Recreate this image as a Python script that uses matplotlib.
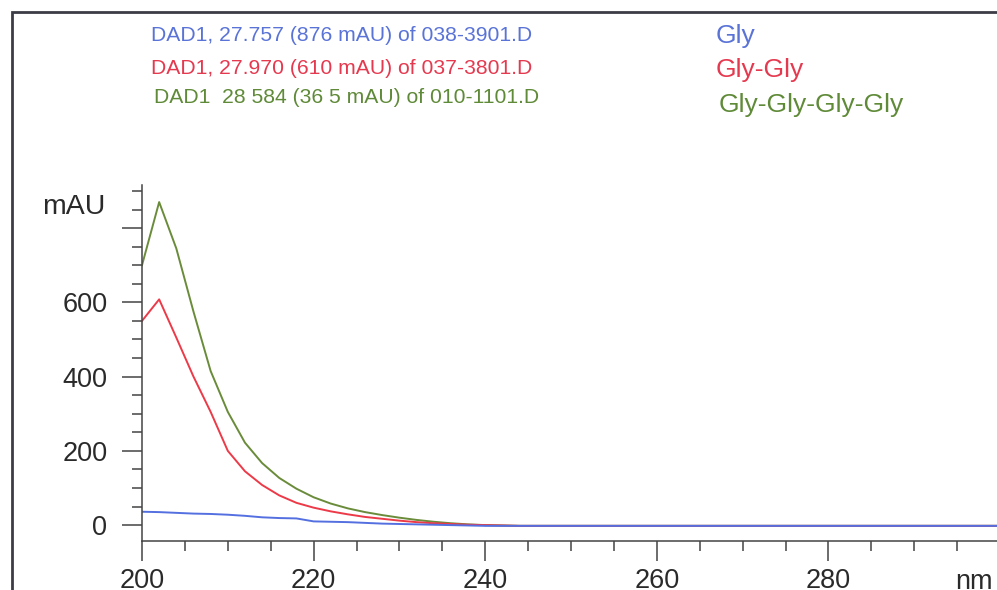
import matplotlib
matplotlib.use('Agg')
import matplotlib.pyplot as plt
from matplotlib.patches import Rectangle
from matplotlib.ticker import MultipleLocator, FixedFormatter, FixedLocator

plt.rcParams['font.family'] = ['Liberation Sans', 'DejaVu Sans']

# Wavelength grid in nm, absorbance in mAU for each peptide spectrum
wavelength = [200, 202, 204, 206, 208, 210, 212, 214, 216, 218,
              220, 222, 224, 226, 228, 230, 232, 234, 236, 238,
              240, 244, 250, 260, 270, 280, 290, 300, 310]
gly = [36, 35, 33, 31, 30, 28, 25, 21, 19, 18,
       10, 9, 8, 6, 4, 3, 2, 1, 0, -1,
       -2, -2, -2, -2, -2, -2, -2, -2, -2]
gly_gly = [550, 608, 505, 400, 305, 200, 145, 108, 80, 60,
           47, 37, 29, 22, 17, 12, 8, 5, 3, 1,
           0, -2, -2, -2, -2, -2, -2, -2, -2]
gly4 = [700, 870, 745, 575, 415, 305, 222, 167, 127, 98,
        75, 58, 45, 35, 27, 20, 14, 9, 5, 2,
        0, -2, -2, -2, -2, -2, -2, -2, -2]

y_ticks = [0, 200, 400, 600, 800]
y_labels = ['0', '200', '400', '600', '']
x_ticks = [200, 220, 240, 260, 280, 300]
x_labels = ['200', '220', '240', '260', '280', '']

headers = ['DAD1, 27.757 (876 mAU) of 038-3901.D',
           'DAD1, 27.970 (610 mAU) of 037-3801.D',
           'DAD1  28 584 (36 5 mAU) of 010-1101.D']
names = ['Gly', 'Gly-Gly', 'Gly-Gly-Gly-Gly']
colors = ['#5a73d7', '#e5394f', '#5f8a38']
line_colors = ['#5470e0', '#ec3a48', '#6a8c3a']

W, H = 997, 590
fig = plt.figure(figsize=(W / 100, H / 100), dpi=100)

# axes placed in pixel terms: 200 nm at x=142, 8.58 px per nm
left, bottom_px, top_px = 142, 540.7, 185
ax = fig.add_axes([left / W, (H - bottom_px) / H,
                   (110 * 8.58) / W, (bottom_px - top_px) / H])

ax.plot(wavelength, gly4, color=line_colors[2], lw=1.4)
ax.plot(wavelength, gly_gly, color=line_colors[1], lw=1.4)
ax.plot(wavelength, gly, color=line_colors[0], lw=1.4)

ax.set_xlim(200, 310)
ax.set_ylim(-42, 916)
for s in ['top', 'right']:
    ax.spines[s].set_visible(False)
for s in ['left', 'bottom']:
    ax.spines[s].set_color('#444444')
    ax.spines[s].set_linewidth(1.1)

ax.xaxis.set_major_locator(FixedLocator(x_ticks))
ax.xaxis.set_major_formatter(FixedFormatter(x_labels))
ax.xaxis.set_minor_locator(MultipleLocator(5))
ax.yaxis.set_major_locator(FixedLocator(y_ticks))
ax.yaxis.set_major_formatter(FixedFormatter(y_labels))
ax.yaxis.set_minor_locator(MultipleLocator(50))
ax.tick_params(which='major', length=14.4, width=1.1, color='#444444',
               labelsize=19.5, labelcolor='#2a2a2a')
ax.tick_params(which='minor', length=7.5, width=1.1, color='#444444')
ax.tick_params(axis='y', which='major', pad=10.5)
ax.tick_params(axis='x', which='major', pad=5)

ax.text(-0.0385, 857, 'mAU', transform=ax.get_yaxis_transform(),
        ha='right', va='center', fontsize=20.5, color='#2a2a2a')
fig.text(955 / W, 1 - 589 / H, 'nm', ha='left', va='baseline',
         fontsize=19.5, color='#2a2a2a')

# sample headers and peptide names
header_x = [150.7, 150.7, 154]
header_base = [40.7, 74, 103.3]
name_x = [716, 716, 719]
name_base = [43.3, 77.3, 112]
for i in range(3):
    fig.text(header_x[i] / W, 1 - header_base[i] / H, headers[i],
             ha='left', va='baseline', fontsize=15.2, color=colors[i])
    fig.text(name_x[i] / W, 1 - name_base[i] / H, names[i],
             ha='left', va='baseline', fontsize=19, color=colors[i])

# window frame running off the right and bottom edges
fig.patches.append(Rectangle((11.7 / W, -0.2), 1.2, 1.2 - 12 / H,
                             transform=fig.transFigure, fill=False,
                             edgecolor='#3c3c46', lw=2))

fig.savefig('out.png', dpi=100)
